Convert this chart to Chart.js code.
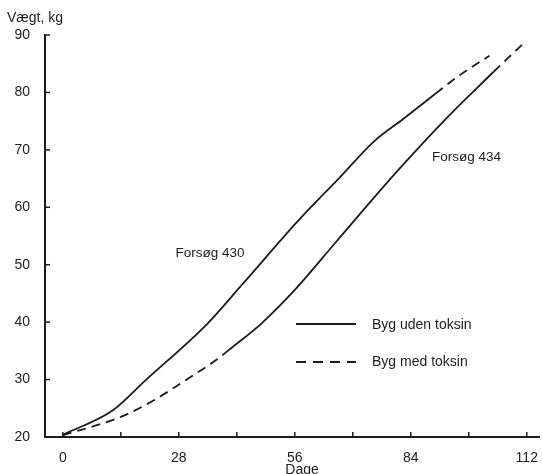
<!DOCTYPE html>
<html>
<head>
<meta charset="utf-8">
<script src="https://cdn.jsdelivr.net/npm/chart.js@4.4.1/dist/chart.umd.min.js"></script>
<style>
  html, body { margin: 0; padding: 0; background: #fff; }
  #wrap { width: 543px; height: 474px; position: relative; }
</style>
</head>
<body>
<div id="wrap"><canvas id="c"></canvas></div>
<script>
// ---- data ----
// Forsøg 430: solid (uden toksin) then dashed continuation
const days430Uden = [0, 12, 20, 35, 43, 57, 67, 75, 82, 90];
const kg430Uden   = [20.4, 24.6, 29.9, 39.8, 46.3, 57.8, 65.3, 71.4, 75.3, 79.8];
const days430Med  = [90, 96, 103];
const kg430Med    = [79.8, 83.1, 86.4];

// Forsøg 434: dashed start, solid middle, dashed end
const days434MedStart = [0, 14, 22, 29, 37, 40];
const kg434MedStart   = [20.3, 23.5, 26.4, 29.6, 33.4, 35.1];
const days434Uden = [40, 48, 56, 66, 81, 93, 104];
const kg434Uden   = [35.1, 39.8, 45.6, 54.0, 66.5, 75.8, 83.6];
const days434MedEnd = [104, 111.3];
const kg434MedEnd   = [83.6, 88.6];

const xTickValues = [0, 28, 56, 84, 112];
const xMarkValues = [0, 14, 28, 42, 56, 70, 84, 98, 112];
const yTickValues = [20, 30, 40, 50, 60, 70, 80, 90];

const legendLabels = ['Byg uden toksin', 'Byg med toksin'];
const curveLabels = ['Forsøg 430', 'Forsøg 434'];
const yTitle = 'Vægt, kg';
const xTitle = 'Dage';

const INK = '#1c1c1c';
const FONT = '"Liberation Sans", Arial, Helvetica, sans-serif';
const DASH = [9, 6];

function pts(xs, ys) { return xs.map((x, i) => ({ x: x, y: ys[i] })); }
function ds(label, xs, ys, dashed) {
  return {
    label: label,
    data: pts(xs, ys),
    borderColor: INK,
    borderWidth: 1.8,
    borderDash: dashed ? DASH : [],
    pointRadius: 0,
    fill: false,
    cubicInterpolationMode: 'monotone'
  };
}

const decor = {
  id: 'decor',
  afterDraw(chart) {
    const ctx = chart.ctx;
    const xs = chart.scales.x, ys = chart.scales.y;
    const ca = chart.chartArea;
    ctx.save();
    // inner tick marks
    ctx.strokeStyle = INK;
    ctx.lineWidth = 1.5;
    ctx.setLineDash([]);
    yTickValues.forEach(v => {
      const y = ys.getPixelForValue(v);
      ctx.beginPath(); ctx.moveTo(ca.left, y); ctx.lineTo(ca.left + 5, y); ctx.stroke();
    });
    xMarkValues.forEach(v => {
      const x = xs.getPixelForValue(v);
      ctx.beginPath(); ctx.moveTo(x, ca.bottom); ctx.lineTo(x, ca.bottom - 5); ctx.stroke();
    });
    // texts
    ctx.fillStyle = INK;
    ctx.font = '14px ' + FONT;
    ctx.textBaseline = 'alphabetic';
    ctx.textAlign = 'left';
    ctx.fillText(yTitle, 7, 22);
    ctx.textAlign = 'center';
    ctx.fillText(xTitle, 302, 474);
    ctx.textAlign = 'left';
    ctx.font = '13.5px ' + FONT;
    ctx.fillText(curveLabels[0], xs.getPixelForValue(27.2), ys.getPixelForValue(51.4));
    ctx.fillText(curveLabels[1], xs.getPixelForValue(89.1), ys.getPixelForValue(68.1));
    // legend
    ctx.font = '14px ' + FONT;
    ctx.lineWidth = 1.8;
    ctx.beginPath(); ctx.moveTo(296, 324); ctx.lineTo(356, 324); ctx.stroke();
    ctx.fillText(legendLabels[0], 372, 329);
    ctx.setLineDash([10, 7]);
    ctx.beginPath(); ctx.moveTo(296, 362); ctx.lineTo(356, 362); ctx.stroke();
    ctx.setLineDash([]);
    ctx.fillText(legendLabels[1], 372, 366);
    ctx.restore();
  }
};

new Chart(document.getElementById('c'), {
  type: 'line',
  data: {
    datasets: [
      ds('Forsøg 430 – Byg uden toksin', days430Uden, kg430Uden, false),
      ds('Forsøg 430 – Byg med toksin', days430Med, kg430Med, true),
      ds('Forsøg 434 – Byg med toksin', days434MedStart, kg434MedStart, true),
      ds('Forsøg 434 – Byg uden toksin', days434Uden, kg434Uden, false),
      ds('Forsøg 434 – Byg med toksin (slut)', days434MedEnd, kg434MedEnd, true)
    ]
  },
  options: {
    responsive: true,
    maintainAspectRatio: false,
    animation: false,
    layout: { padding: { top: 35, right: 3, bottom: 0, left: 0 } },
    plugins: { legend: { display: false }, tooltip: { enabled: false } },
    scales: {
      x: {
        type: 'linear',
        min: -4.3,
        max: 115,
        grid: { display: false },
        border: { display: true, color: INK, width: 2 },
        afterBuildTicks: s => { s.ticks = xTickValues.map(v => ({ value: v })); },
        afterFit: s => { s.height = 37; },
        ticks: { color: INK, padding: 5, font: { family: FONT, size: 14 }, maxRotation: 0, autoSkip: false }
      },
      y: {
        type: 'linear',
        min: 20,
        max: 90,
        grid: { display: false },
        border: { display: true, color: INK, width: 2 },
        afterBuildTicks: s => { s.ticks = yTickValues.map(v => ({ value: v })); },
        afterFit: s => { s.width = 45; },
        ticks: { color: INK, padding: 7, font: { family: FONT, size: 14 } }
      }
    }
  },
  plugins: [decor]
});
</script>
</body>
</html>
